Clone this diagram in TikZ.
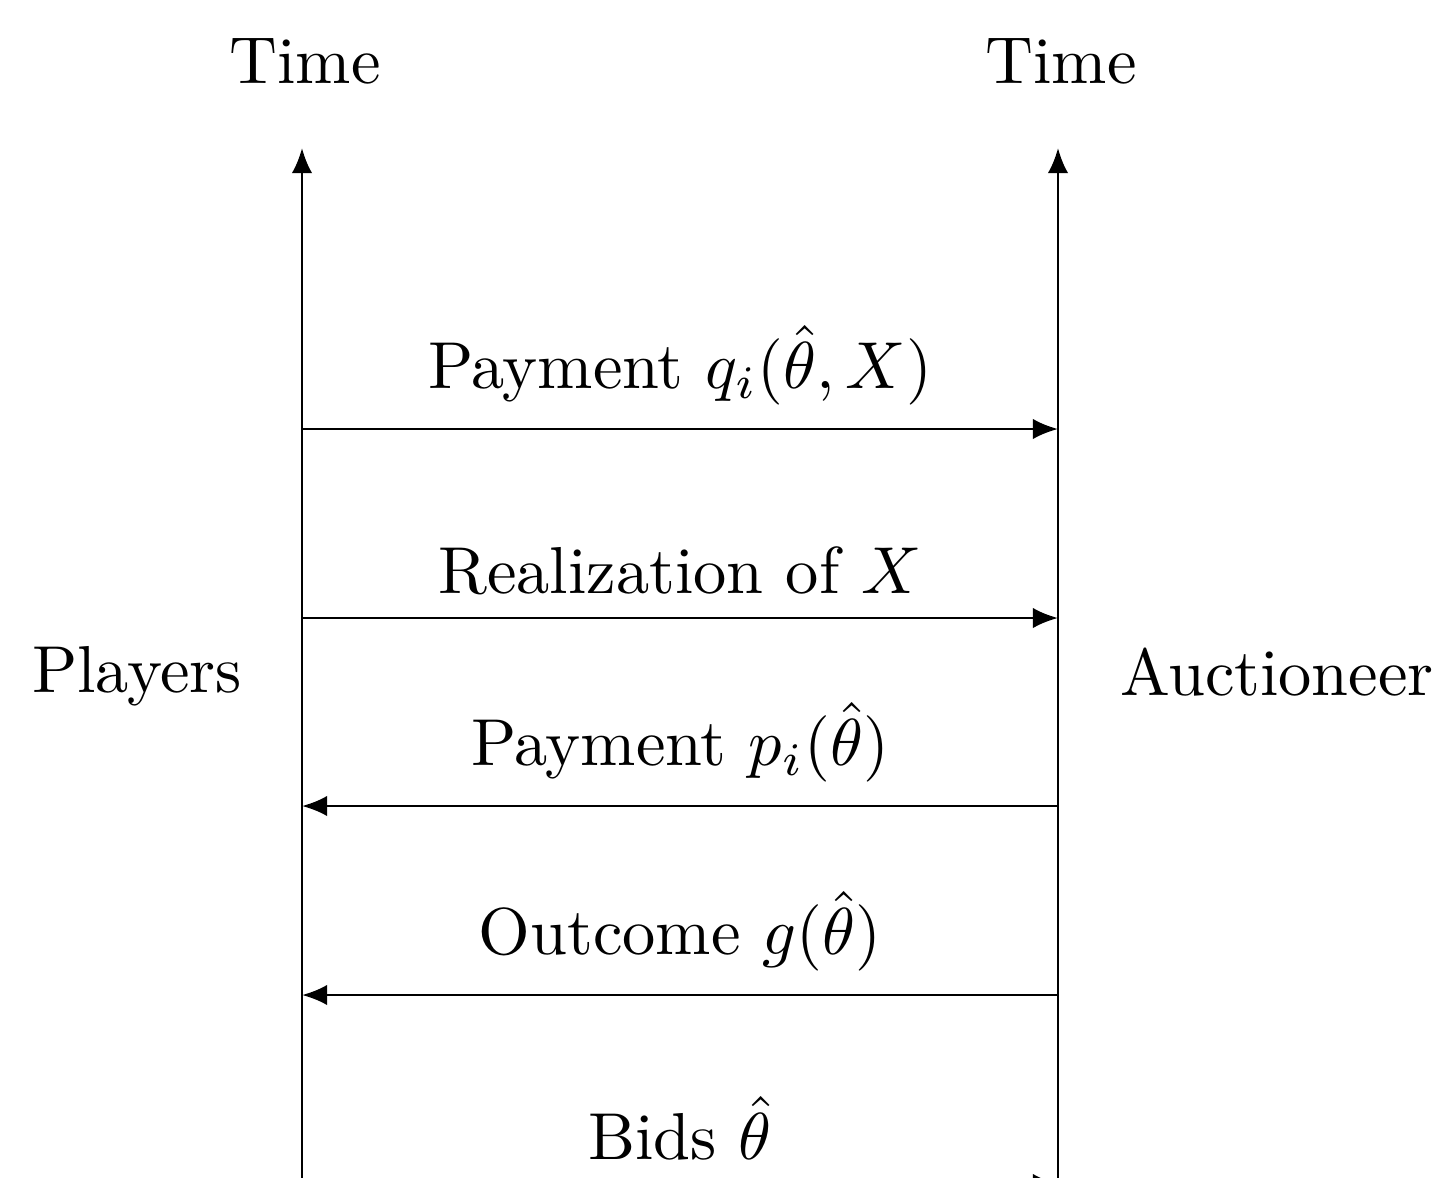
\documentclass[tikz,border=0pt]{standalone}
\usetikzlibrary{arrows.meta}
\begin{document}
\begin{tikzpicture}[x=0.1506pt,y=-0.1506pt,
  arr/.style={-{Latex[length=3.8pt,width=3.1pt]}, line width=0.4pt},
  lbl/.style={above, inner sep=3.33pt},
  txt/.style={anchor=base, inner sep=0pt}]
\clip (0,0) rectangle (1435,1177);
% time axes
\coordinate (Pb) at (302,1260);
\coordinate (Pt) at (302,148);
\coordinate (Ab) at (1058,1260);
\coordinate (At) at (1058,148);
\draw[arr] (Pb) -- (Pt);
\draw[arr] (Ab) -- (At);
\node[txt] (tp) at (305,83) {Time};
\node[txt] (ta) at (1061,83) {Time};
\node[txt] (players) at (137,692) {Players};
\node[txt] (auct) at (1277,695) {Auctioneer};
% message points
\coordinate (p1) at (302,429);  \coordinate (a1) at (1058,429);
\coordinate (p2) at (302,618);  \coordinate (a2) at (1058,618);
\coordinate (p3) at (302,806);  \coordinate (a3) at (1058,806);
\coordinate (p4) at (302,995);  \coordinate (a4) at (1058,995);
\coordinate (p5) at (302,1184); \coordinate (a5) at (1058,1184);
\draw[arr] (p1) -- node[lbl] (l1) {Payment $q_i(\hat\theta,X)$} (a1);
\draw[arr] (p2) -- node[lbl] (l2) {Realization of $X$} (a2);
\draw[arr] (a3) -- node[lbl] (l3) {Payment $p_i(\hat\theta)$} (p3);
\draw[arr] (a4) -- node[lbl] (l4) {Outcome $g(\hat\theta)$} (p4);
\draw[arr] (p5) -- node[lbl] (l5) {Bids $\hat\theta$} (a5);
\end{tikzpicture}
\end{document}
